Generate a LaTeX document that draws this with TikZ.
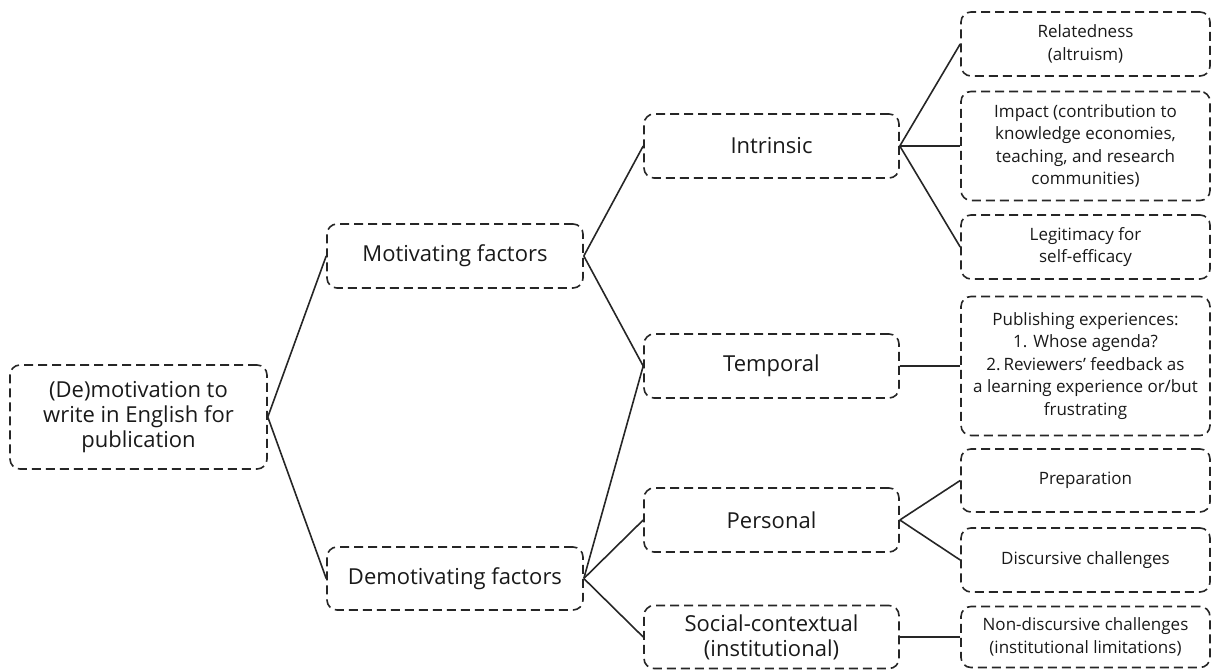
\documentclass[tikz,border=0pt]{standalone}
\usepackage{fontspec}
\setmainfont{Open Sans}
\tikzset{
    %Define style for boxes
    factor/.style={
           rectangle,
           rounded corners=10pt,
           draw=black!85, line width=1.6pt,
           dash pattern=on 9pt off 5pt,
           inner sep=0pt,
           minimum width=256pt,
           minimum height=64pt,
           text=black!90,
           font=\fontsize{22}{25}\selectfont,
           align=center},
    detail/.style={
           factor,
           minimum width=249pt,
           font=\fontsize{17}{22.5}\selectfont},
    % Define line style
    link/.style={
           draw=black!85,
           line width=1.6pt}
}
\begin{document}
\begin{tikzpicture}[x=1pt,y=-1pt,main node/.style={factor},sub node/.style={detail}]
\useasboundingbox (0,0) rectangle (1212,671);
% first two columns
\node[main node, minimum width=257pt, minimum height=104pt](root) at (138.5,417){(De)motivation to\\write in English for\\publication};
\node[main node](mot) at (455,256){Motivating factors};
\node[main node, minimum height=63pt](demot) at (455,578.5){Demotivating factors};
\node[main node, minimum width=255pt](intr) at (771.5,146){Intrinsic};
\node[main node, minimum width=255pt](temp) at (771.5,366){Temporal};
\node[main node, minimum width=255pt](pers) at (771.5,520){Personal};
\node[main node, minimum width=255pt, minimum height=63pt](soc) at (771.5,637){Social-contextual\\(institutional)};
% last column
\node[sub node](rel) at (1085.5,44){Relatedness\\(altruism)};
\node[sub node, minimum height=109pt](imp) at (1085.5,146){Impact (contribution to\\knowledge economies,\\teaching, and research\\communities)};
\node[sub node](leg) at (1085.5,247){Legitimacy for\\self-efficacy};
\node[sub node, minimum height=139pt](pub) at (1085.5,366){Publishing experiences:\\1. Whose agenda?\\2.\,Reviewers’ feedback as\\a learning experience or/but\\frustrating};
\node[sub node, minimum height=63pt](prep) at (1085.5,480.5){Preparation};
\node[sub node](disc) at (1085.5,560){Discursive challenges};
\node[sub node, minimum height=61pt](nondisc) at (1085.5,637){Non-discursive challenges\\(institutional limitations)};
\path[link]
	(root.east) edge (mot.west) edge (demot.west)
	(mot.east) edge (intr.west) edge (temp.west)
	(demot.east) edge (temp.west) edge (pers.west) edge (soc.west)
	(intr.east) edge (rel.west) edge (imp.west) edge (leg.west)
	(temp.east) edge (pub.west)
	(pers.east) edge (prep.west) edge (disc.west)
	(soc.east) edge (nondisc.west);
\end{tikzpicture}
\end{document}
